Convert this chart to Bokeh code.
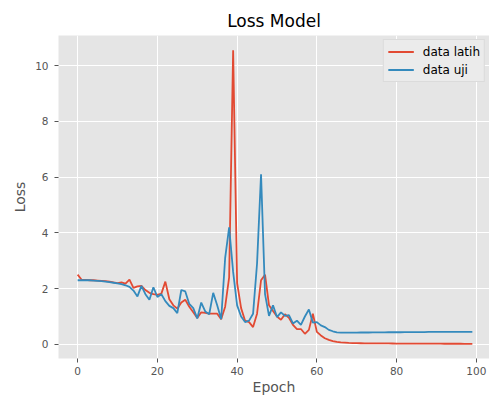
from bokeh.plotting import figure
from bokeh.models import Range1d, Legend, LegendItem, FixedTicker
from bokeh.embed import file_html
from bokeh.resources import INLINE

epochs = list(range(100))

data_latih = [
    2.50, 2.32, 2.31, 2.30, 2.30, 2.29, 2.28, 2.27, 2.25, 2.22,
    2.20, 2.22, 2.18, 2.32, 2.03, 2.08, 2.10, 1.95, 1.85, 1.80,
    1.78, 1.82, 2.25, 1.62, 1.40, 1.28, 1.50, 1.60, 1.35, 1.15,
    0.95, 1.15, 1.13, 1.10, 1.10, 1.10, 0.90, 1.35, 2.40, 10.55,
    2.20, 1.30, 0.85, 0.80, 0.62, 1.10, 2.30, 2.50, 1.40, 1.20,
    1.00, 0.88, 1.08, 0.95, 0.70, 0.55, 0.55, 0.38, 0.52, 1.10,
    0.45, 0.32, 0.22, 0.16, 0.12, 0.09, 0.07, 0.06, 0.05, 0.045,
    0.042, 0.040, 0.038, 0.037, 0.036, 0.035, 0.034, 0.033, 0.032, 0.031,
    0.030, 0.030, 0.029, 0.028, 0.028, 0.027, 0.026, 0.026, 0.025, 0.025,
    0.024, 0.024, 0.023, 0.023, 0.022, 0.022, 0.022, 0.021, 0.021, 0.020,
]

data_uji = [
    2.30, 2.30, 2.30, 2.30, 2.29, 2.28, 2.27, 2.25, 2.23, 2.21,
    2.19, 2.16, 2.12, 2.06, 1.93, 1.72, 2.10, 1.80, 1.60, 2.05,
    1.70, 1.80, 1.55, 1.38, 1.30, 1.12, 1.95, 1.90, 1.45, 1.30,
    0.93, 1.50, 1.18, 1.08, 1.85, 1.40, 0.90, 3.10, 4.20, 2.60,
    1.40, 1.00, 0.80, 0.85, 1.10, 2.90, 6.10, 1.80, 1.02, 1.40,
    0.98, 1.15, 1.02, 1.05, 0.75, 0.85, 0.70, 1.00, 1.25, 0.78,
    0.80, 0.68, 0.62, 0.52, 0.47, 0.43, 0.42, 0.42, 0.42, 0.42,
    0.42, 0.425, 0.425, 0.425, 0.43, 0.43, 0.43, 0.43, 0.435, 0.435,
    0.435, 0.435, 0.44, 0.44, 0.44, 0.44, 0.44, 0.44, 0.445, 0.445,
    0.445, 0.445, 0.445, 0.45, 0.45, 0.45, 0.45, 0.45, 0.45, 0.45,
]

x_ticks = [0, 20, 40, 60, 80, 100]
y_ticks = [0, 2, 4, 6, 8, 10]

FONT = "DejaVu Sans"
GRAY = "#555555"

p = figure(width=489, height=397, output_backend="svg", toolbar_location=None,
           x_range=Range1d(-4.8, 103.3), y_range=Range1d(-0.507, 11.08),
           title="Loss Model", min_border_left=58, min_border_right=0,
           min_border_top=35, min_border_bottom=39)

p.background_fill_color = "#E5E5E5"
p.border_fill_color = "white"
p.outline_line_color = None

p.title.text_font = FONT
p.title.text_font_size = "17px"
p.title.text_font_style = "normal"
p.title.text_color = "black"
p.title.align = "center"
p.title.offset = 1

for ax in (p.xaxis, p.yaxis):
    ax.axis_line_color = None
    ax.major_tick_line_color = GRAY
    ax.major_tick_out = 4
    ax.major_tick_in = 0
    ax.minor_tick_line_color = None
    ax.major_label_text_font = FONT
    ax.major_label_text_font_size = "10.5px"
    ax.major_label_text_color = GRAY
    ax.axis_label_text_font = FONT
    ax.axis_label_text_font_size = "14px"
    ax.axis_label_text_font_style = "normal"
    ax.axis_label_text_color = GRAY

p.xaxis.ticker = FixedTicker(ticks=x_ticks)
p.yaxis.ticker = FixedTicker(ticks=y_ticks)
p.xaxis.axis_label = "Epoch"
p.yaxis.axis_label = "Loss"
p.xaxis.major_label_standoff = 4
p.yaxis.major_label_standoff = 6
p.xaxis.axis_label_standoff = 1
p.yaxis.axis_label_standoff = 4

p.xgrid.ticker = FixedTicker(ticks=x_ticks)
p.ygrid.ticker = FixedTicker(ticks=y_ticks)
p.grid.grid_line_color = "white"
p.grid.grid_line_width = 1

r1 = p.line(epochs, data_latih, line_color="#E24A33", line_width=1.8)
r2 = p.line(epochs, data_uji, line_color="#348ABD", line_width=1.8)

legend = Legend(items=[LegendItem(label="data latih", renderers=[r1]),
                       LegendItem(label="data uji", renderers=[r2])],
                location="top_right", margin=4, padding=4, spacing=3,
                label_text_font=FONT, label_text_font_size="12px",
                label_text_color="black", label_height=15, glyph_height=15,
                glyph_width=26, label_standoff=9,
                background_fill_color="#EBEBEB", background_fill_alpha=1.0,
                border_line_color="#CCCCCC", border_line_width=1)
p.add_layout(legend, "center")

open("out.html", "w").write(file_html(p, INLINE))
